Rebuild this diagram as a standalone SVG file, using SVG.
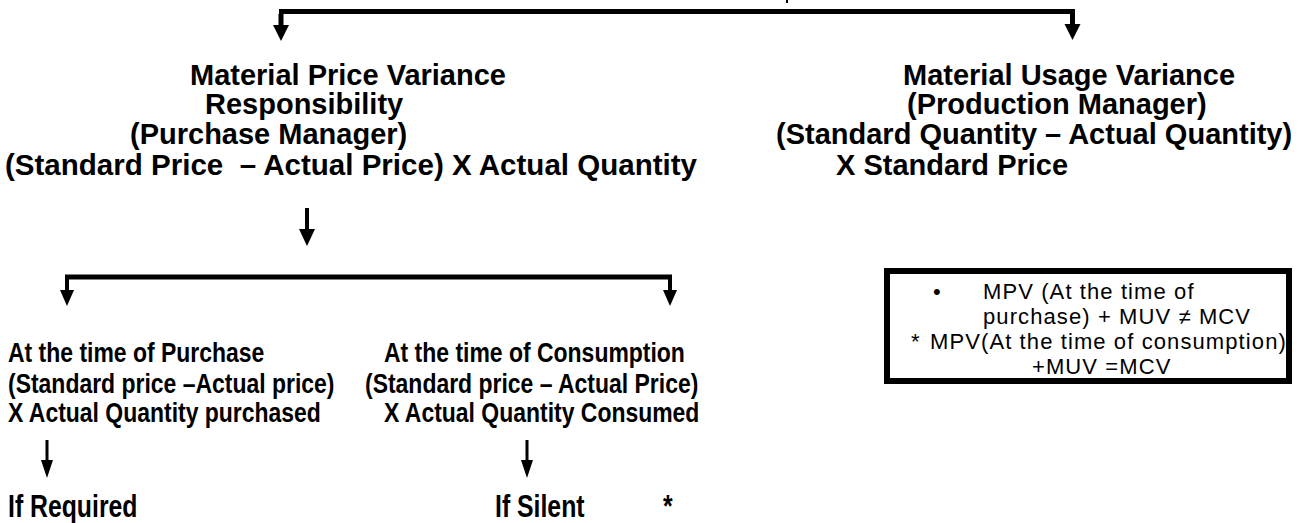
<svg xmlns="http://www.w3.org/2000/svg" width="1304" height="523" viewBox="0 0 1304 523">
  <style>
    .t { font-family: "Liberation Sans", Arial, Helvetica, sans-serif; font-weight: bold; font-size: 29px; fill: #000; }
    .m { font-family: "Liberation Sans", Arial, Helvetica, sans-serif; font-weight: bold; font-size: 28px; fill: #000; }
    .big { font-family: "Liberation Sans", Arial, Helvetica, sans-serif; font-weight: bold; font-size: 31px; fill: #000; }
    .r { font-family: "Liberation Sans", Arial, Helvetica, sans-serif; font-size: 22px; letter-spacing: 1.1px; fill: #000; }
    .ink { fill: #000; stroke: none; }
    .frame { fill: #fff; stroke: #000; stroke-width: 6; }
  </style>

  <!-- connectors: thick split line at the top, split below the price variance, and the two short drops -->
  <g id="connectors" class="ink">
    <rect x="786" y="0" width="2" height="3"/>
    <rect x="279" y="9" width="796" height="5"/>
    <rect x="278.5" y="14" width="5" height="12"/>
    <polygon points="273,25 289,25 281,41"/>
    <rect x="1070" y="14" width="5" height="11"/>
    <polygon points="1064.5,24 1080.5,24 1072.5,40"/>

    <rect x="305" y="208" width="4" height="22"/>
    <polygon points="299,229 315,229 307,246"/>
    <rect x="65" y="274.5" width="607" height="5"/>
    <rect x="65" y="277" width="4" height="14"/>
    <polygon points="60,290 74,290 67,306"/>
    <rect x="668" y="277" width="4" height="14"/>
    <polygon points="663,290 677,290 670,306"/>

    <rect x="45.5" y="440" width="3" height="22"/>
    <polygon points="41,460 53,460 47,478"/>
    <rect x="525.5" y="440" width="3" height="22"/>
    <polygon points="521,460 533,460 527,478"/>
  </g>

  <!-- upper headings -->
  <g id="price-variance">
    <text class="t" x="190" y="85">Material Price Variance</text>
    <text class="t" x="205" y="114">Responsibility</text>
    <text class="t" x="130" y="144">(Purchase Manager)</text>
    <text class="t" x="5" y="175" textLength="692" lengthAdjust="spacingAndGlyphs">(Standard Price&#160; – Actual Price) X Actual Quantity</text>
  </g>

  <g id="usage-variance">
    <text class="t" x="903" y="85">Material Usage Variance</text>
    <text class="t" x="907" y="114">(Production Manager)</text>
    <text class="t" x="776" y="144">(Standard Quantity – Actual Quantity)</text>
    <text class="t" x="836" y="175">X Standard Price</text>
  </g>

  <!-- middle and bottom rows use a narrow bold face -->
  <g id="at-purchase">
    <text class="m" transform="translate(8 362) scale(0.82 1)">At the time of Purchase</text>
    <text class="m" transform="translate(8 393) scale(0.82 1)">(Standard price –Actual price)</text>
    <text class="m" transform="translate(8 422) scale(0.82 1)">X Actual Quantity purchased</text>
  </g>

  <g id="at-consumption">
    <text class="m" transform="translate(384 362) scale(0.82 1)">At the time of Consumption</text>
    <text class="m" transform="translate(365 393) scale(0.82 1)">(Standard price – Actual Price)</text>
    <text class="m" transform="translate(384 422) scale(0.82 1)">X Actual Quantity Consumed</text>
  </g>

  <g id="if-required">
    <text class="big" transform="translate(8 517) scale(0.8 1)">If Required</text>
  </g>

  <g id="if-silent">
    <text class="big" transform="translate(495 517) scale(0.8 1)">If Silent</text>
    <text class="big" transform="translate(663 517) scale(0.8 1)">*</text>
  </g>

  <g id="note">
    <rect class="frame" x="887" y="271" width="402" height="110"/>
    <text class="r" x="933" y="299">•</text>
    <text class="r" x="983" y="299">MPV (At the time of</text>
    <text class="r" x="983" y="324">purchase) + MUV ≠ MCV</text>
    <text class="r" x="911" y="349">*</text>
    <text class="r" x="930" y="349">MPV(At the time of consumption)</text>
    <text class="r" x="1032" y="374">+MUV =MCV</text>
  </g>
</svg>
